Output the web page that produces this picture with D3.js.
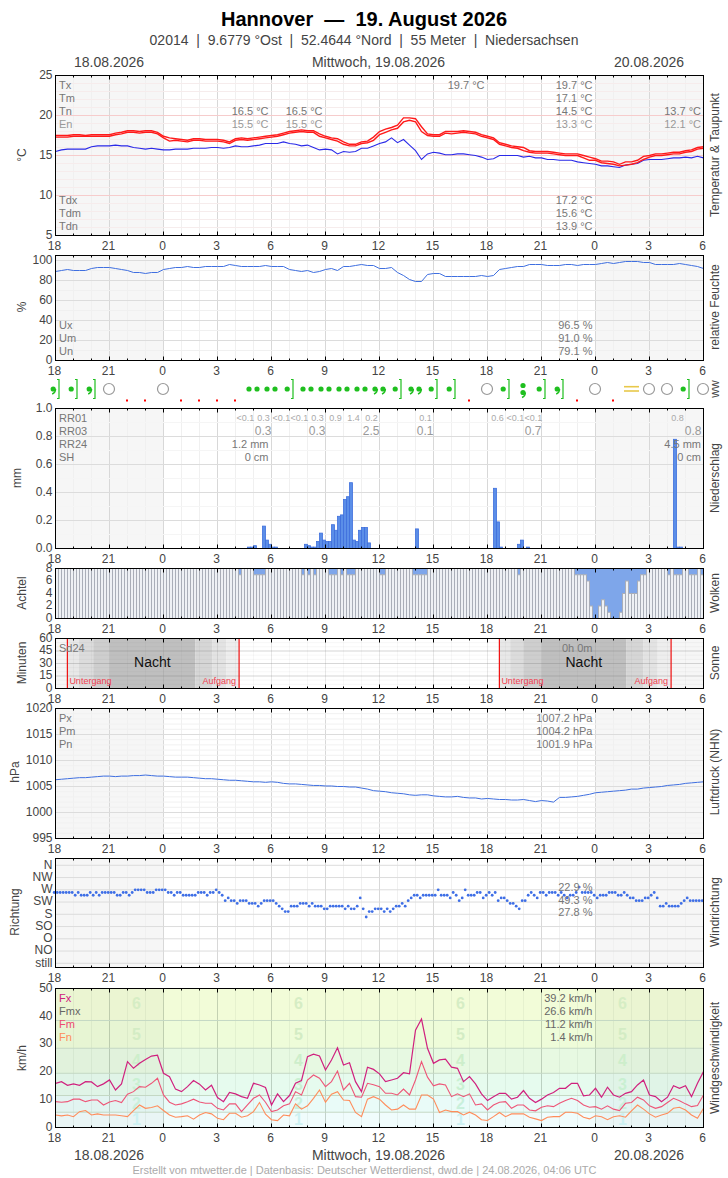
<!DOCTYPE html>
<html>
<head>
<meta charset="utf-8">
<script src="https://cdn.jsdelivr.net/npm/d3@7"></script>
<style>
  body { margin: 0; background: #fff; }
  text { font-family: "Liberation Sans", Arial, sans-serif; }
</style>
</head>
<body>
<div id="app"></div>
<script>
// all line series: one value every 20 minutes, 18:00 to 06:00 next-next day (36 h)
const tempHigh = [17.5,17.5,17.5,17.6,17.6,17.5,17.6,17.6,17.6,17.6,17.8,17.9,18.1,18.1,18.0,18.1,18.1,17.9,17.4,17.2,17.1,17.0,16.9,17.1,17.1,17.0,17.0,17.0,16.9,16.7,17.1,17.2,17.1,17.2,17.3,17.4,17.5,17.6,17.8,18.0,18.1,18.2,18.1,18.1,17.7,17.4,17.2,17.1,16.7,16.4,16.4,16.7,
  16.8,17.3,18.0,18.3,18.5,18.8,19.7,19.7,19.6,18.6,17.7,17.6,17.6,18.0,18.0,18.0,18.1,18.0,17.9,17.6,17.4,17.2,16.6,16.4,16.2,16.1,16.0,15.6,15.5,15.5,15.5,15.4,15.3,15.2,15.2,15.2,15.0,14.8,14.6,14.3,14.3,14.2,13.9,14.2,14.2,14.4,14.9,15.0,15.2,15.2,15.3,15.4,15.4,15.6,15.7,16.0,16.1];
const tempLow = [17.3,17.3,17.3,17.4,17.4,17.4,17.4,17.4,17.4,17.4,17.6,17.7,17.9,17.9,17.8,17.9,17.9,17.7,17.2,16.8,16.9,16.8,16.7,16.9,16.9,16.8,16.8,16.8,16.7,16.5,16.9,17.0,16.9,17.0,17.1,17.2,17.3,17.4,17.6,17.8,17.9,18.0,17.9,17.9,17.4,17.2,17.0,16.8,16.4,16.2,16.2,16.5,
  16.6,16.9,17.6,17.9,18.2,18.4,19.2,19.4,19.2,18.0,17.5,17.4,17.4,17.8,17.7,17.8,17.9,17.8,17.7,17.4,17.2,17.0,16.4,16.2,16.0,15.9,15.6,15.4,15.3,15.3,15.3,15.2,15.1,15.0,15.0,15.0,14.7,14.4,14.4,14.1,14.0,13.9,13.7,13.8,13.9,14.1,14.5,14.8,15.0,15.0,15.1,15.2,15.2,15.4,15.5,15.8,15.9];
const dewPoint = [15.5,15.7,15.8,15.8,15.8,15.8,16.1,16.2,16.2,16.2,16.3,16.2,16.2,16.0,15.9,15.8,15.9,15.8,15.7,15.7,15.8,15.8,15.8,15.9,15.9,15.9,16.0,16.0,15.9,16.0,16.2,16.1,16.1,16.2,16.3,16.5,16.5,16.5,16.7,16.5,16.4,16.2,16.3,16.0,15.7,15.8,15.7,15.2,15.5,15.4,15.5,15.9,
  15.9,16.2,16.5,16.7,17.2,16.6,17.0,16.3,15.6,14.5,15.2,15.4,15.3,15.1,15.1,15.2,15.2,15.1,15.0,14.8,14.5,14.6,15.0,15.0,15.0,15.0,14.8,14.9,14.7,14.7,14.5,14.5,14.4,14.4,14.4,14.2,14.1,14.0,13.9,13.7,13.7,13.6,13.5,13.8,13.9,14.0,14.4,14.5,14.5,14.5,14.6,14.7,14.7,14.8,14.7,14.9,14.7];
const humidity = [89,90,91,90,90,90,92,93,93,93,92,91,90,88,88,87,88,88,91,92,93,93,94,93,93,94,94,94,94,96,95,94,94,94,94,95,94,94,94,91,90,89,90,88,89,91,92,90,94,94,95,96,
  95,95,92,92,93,88,85,81,79,79,86,87,87,84,84,84,84,84,84,85,84,85,91,92,93,94,94,96,96,96,95,95,95,96,96,95,96,96,96,97,98,97,98,99,99,99,98,98,96,96,96,96,97,96,95,94,92];
const pressure = [1006.3,1006.4,1006.5,1006.6,1006.7,1006.7,1006.8,1006.9,1007.0,1007.0,1006.9,1007.0,1007.0,1007.1,1007.1,1007.2,1007.1,1007.0,
  1007.0,1006.9,1006.8,1006.8,1006.8,1006.7,1006.6,1006.5,1006.5,1006.4,1006.3,1006.2,1006.2,1006.1,1006.0,1005.9,1005.9,1005.8,
  1005.9,1005.8,1005.6,1005.5,1005.5,1005.4,1005.3,1005.2,1005.2,1005.1,1005.1,1005.0,1005.0,1004.9,1004.9,1004.7,1004.5,1004.2,
  1004.1,1004.0,1003.8,1003.7,1003.6,1003.4,1003.3,1003.4,1003.4,1003.2,1003.1,1003.0,1003.0,1003.1,1002.9,1002.8,1002.8,1002.6,
  1002.7,1002.6,1002.5,1002.5,1002.4,1002.4,1002.5,1002.3,1002.1,1002.3,1002.2,1002.0,1002.9,1002.9,1003.0,1003.1,1003.3,1003.5,
  1003.8,1003.9,1004.0,1004.1,1004.2,1004.3,1004.5,1004.5,1004.7,1004.8,1004.9,1005.0,1005.2,1005.3,1005.4,1005.6,1005.7,1005.8,1005.9];
const windMax = [15.9,16.5,15.2,15.7,15.2,16.5,16.4,14.7,15.7,17.1,13.5,15.7,23.7,21.3,23.1,24.5,25.7,26.0,19.5,18.3,13.8,12.9,14.7,16.9,15.6,13.5,15.2,10.8,9.3,12.6,12.1,11.1,10.5,15.9,15.3,14.4,8.1,12.1,9.3,11.5,15.9,16.9,25.5,26.4,25.7,20.7,24.3,28.7,22.5,23.3,16.5,12.9,
  21.7,20.9,19.3,16.5,17.1,17.7,19.7,19.3,35.0,39.0,28.5,23.1,24.3,24.6,21.7,21.3,16.5,18.3,15.7,12.1,9.7,11.1,12.3,12.3,10.2,10.9,13.3,10.5,9.0,10.2,11.7,12.6,14.1,14.1,15.9,15.9,11.4,11.7,14.1,10.9,14.5,11.7,10.9,12.3,12.9,15.3,17.1,11.7,11.1,9.3,10.9,15.0,14.1,15.0,11.1,15.9,20.1];
const windMean = [9.3,9.1,9.3,10.2,10.2,9.3,9.9,9.9,8.1,9.2,9.7,9.0,12.0,12.9,14.7,14.5,15.9,17.7,11.7,9.1,8.1,8.5,9.3,10.2,9.2,8.7,8.7,6.9,6.3,8.5,8.5,5.7,8.1,10.5,11.7,9.1,5.7,6.3,7.8,8.5,12.9,11.7,17.1,18.9,17.7,14.7,16.5,20.3,13.5,15.9,11.1,10.9,
  15.9,15.4,14.7,12.3,12.3,11.7,13.8,11.7,17.1,23.7,18.1,15.0,15.7,15.3,11.1,12.1,11.1,12.1,8.1,8.5,6.3,8.1,9.1,9.3,6.9,8.1,8.1,6.3,6.0,7.3,7.8,7.5,8.7,9.7,10.5,9.7,8.1,7.3,7.5,6.6,7.8,6.6,6.1,8.7,9.0,10.9,9.9,7.8,6.9,7.5,9.0,10.5,9.6,8.5,7.5,7.9,11.7];
const windMin = [4.5,4.2,4.5,3.9,5.7,6.1,4.5,4.9,4.5,4.5,4.5,4.2,3.9,6.1,8.1,6.9,7.2,7.8,6.1,4.5,3.7,3.9,4.2,3.0,4.5,5.4,4.9,3.3,2.8,5.1,5.1,3.7,4.2,5.7,9.0,4.8,2.8,2.5,4.5,4.2,8.5,6.6,7.8,10.5,13.5,9.1,12.0,12.9,9.9,9.7,5.4,3.9,
  10.2,11.1,10.2,8.1,6.3,6.6,8.1,6.6,6.6,11.7,11.7,10.2,5.4,6.3,5.7,5.7,4.5,5.5,4.5,2.8,2.5,3.9,5.4,3.9,4.9,4.9,4.9,3.7,3.1,2.5,3.7,3.9,3.9,5.5,5.5,5.1,3.7,3.1,4.2,3.9,2.8,3.9,4.2,3.7,6.0,8.1,6.6,4.9,3.7,4.5,5.1,6.9,7.3,6.3,4.5,3.3,6.9];

// one value every 10 minutes
const windDir = [260,260,260,260,260,260,260,250,260,250,250,250,260,250,260,250,260,260,260,260,260,250,250,260,260,250,260,270,270,270,270,260,260,260,270,270,270,270,260,260,250,260,260,250,250,250,250,250,260,260,260,250,260,260,270,260,250,230,240,230,230,220,230,230,230,220,220,220,210,220,230,230,230,230,220,210,200,190,190,210,210,210,220,220,220,210,220,210,210,210,200,200,210,210,210,210,210,200,210,200,200,210,240,200,
  170,190,190,200,200,200,190,200,190,200,210,210,220,210,230,240,250,250,240,250,250,250,250,250,270,250,250,250,240,260,250,230,240,270,250,250,250,260,260,240,250,260,250,260,230,240,240,230,220,220,210,200,230,230,250,260,250,240,260,260,250,260,260,260,250,260,250,240,250,250,260,280,260,260,260,260,250,240,250,250,250,260,260,260,250,250,260,250,240,240,230,230,230,240,240,250,260,240,210,210,220,210,210,210,210,220,230,240,230,230,230,230,230];
const cloudOktas = [8,8,8,8,8,8,8,8,8,8,8,8,8,8,8,8,8,8,8,8,8,8,8,8,8,8,8,8,8,8,8,8,8,8,8,8,
  8,8,8,8,8,8,8,8,8,8,8,8,8,8,8,8,8,8,8,8,8,8,8,8,8,7,8,8,8,8,7,7,7,7,8,8,
  8,8,8,8,8,8,8,8,8,8,7,8,7,8,7,8,8,8,8,7,7,7,8,7,8,7,7,7,8,8,8,8,8,8,8,8,
  7,7,8,8,8,8,8,8,8,8,8,7,7,7,7,7,8,8,8,8,8,8,8,8,8,8,8,8,8,8,8,8,8,8,8,8,
  8,8,8,8,8,8,8,8,8,8,7,8,8,8,8,8,8,8,8,8,8,8,8,8,8,8,8,8,8,7,7,7,7,6,2,0,
  0,2,3,2,1,0,0,0,1,4,6,4,4,4,6,7,7,8,8,8,8,8,8,8,7,8,7,7,7,8,8,7,7,7,8,7];

const rainSlots = [64,65,66,69,70,71,72,73,83,84,85,86,87,88,89,90,91,92,93,94,95,96,97,98,99,100,101,102,103,104,120,146,147,148,154,155,157,206,207,208];
const rainValues = [0.01,0.01,0.02,0.16,0.06,0.03,0.01,0.01,0.03,0.02,0.01,0.01,0.05,0.11,0.06,0.05,0.05,0.17,0.13,0.23,0.24,0.35,0.37,0.47,0.06,0.05,0.13,0.15,0.15,0.04,0.14,0.43,0.19,0.01,0.03,0.06,0.01,0.78,0.01,0.01];

// hourly rain labels: hour offset since 18:00
const rr01Hours = [10,11,12,13,14,15,16,17,20,24,25,26,34];
const rr01Labels = ['<0.1','0.3','<0.1','<0.1','0.3','0.9','1.4','0.2','0.1','0.6','<0.1','<0.1','0.8'];
const rr03Hours = [12,15,18,21,27,36];
const rr03Labels = ['0.3','0.3','2.5','0.1','0.7','0.8'];

// present weather, one symbol per hour offset
const wwCodes = ['commaB','dotB','commaB','clear','red','red','clear','red','red','red','red','dot2','dot2','dotB','dot2','dot2','dot2','dot2','comma2','dotB','comma2','dotB','dotB','red','clear','dotB','dotComma','dotB','commaB','red','clear','red','fog','clear','clear','dotB','clear'];

// twilight bands in hour offsets
const nightEdges = [[0.66,1.3,2.1,3,7.76,8.7,9.5,10.2],[24.66,25.26,26,27,31.7,32.65,33.45,34.2]];
const nightShades = ['#e8e8e8','#dcdcdc','#cecece','#bfbfbf','#d6d6d6','#e3e3e3','#eeeeee'];

const windBands = [0,5.5,11.5,19.5,28.5,38.5,50];
const windColors = ['#f0fcfc','#e9fbf8','#e6fbee','#e7f9e2','#eefcd9','#f2fcd8'];
const beaufortLabels = ['1','2','3','4','5','6'];
const beaufortColors = ['#cdf1f2','#c9f0dc','#c9f0d2','#cdeecb','#d3ecc4','#d6edc4'];
const beaufortSpots = [4.5,13.5,22.5,31.5];

const dirNames = ['still','NO','O','SO','S','SW','W','NW','N'];
const hourTicks = d3.range(0, 37);

const svg = d3.select('#app').append('svg')
  .attr('width', 728)
  .attr('height', 1178)
  .style('display', 'block');

const x = d3.scaleLinear().domain([0, 36]).range([55.5, 703.5]);
const step20 = (d, i) => x(i / 3);

function label(parent, str, px, py, anchor, color, size, weight) {
  return parent.append('text').text(str)
    .attr('x', px).attr('y', py).attr('dy', '.35em')
    .attr('text-anchor', anchor || 'start')
    .attr('fill', color || '#777')
    .attr('font-size', size || 11)
    .attr('font-weight', weight || 'normal');
}

function sideLabel(str, px, py) {
  svg.append('text').text(str)
    .attr('transform', `translate(${px},${py}) rotate(-90)`)
    .attr('dy', '.35em')
    .attr('text-anchor', 'middle')
    .attr('fill', '#444')
    .attr('font-size', 12);
}

// one framed panel: shade, grid, marks, frame and axes stacked in that order
function panel(top, bottom, y, opts) {
  const g = svg.append('g');
  const back = g.append('g');
  const grid = g.append('g');
  const marks = g.append('g');
  const front = g.append('g');

  if (opts.shade !== false) {
    [[0, 6], [30, 36]].forEach(r => back.append('rect')
      .attr('x', x(r[0])).attr('width', x(r[1]) - x(r[0]))
      .attr('y', top).attr('height', bottom - top)
      .attr('fill', '#f6f6f6'));
  }

  const vMinor = opts.vMinor || '#f0f0f0';
  const vMajor = opts.vMajor || '#d8d8d8';
  grid.selectAll('.v').data(hourTicks).join('line')
    .attr('x1', d => x(d)).attr('x2', d => x(d))
    .attr('y1', top).attr('y2', bottom)
    .attr('stroke', d => d % 3 === 0 ? vMajor : vMinor);
  (opts.minor || []).forEach(v => grid.append('line')
    .attr('x1', x(0)).attr('x2', x(36)).attr('y1', y(v)).attr('y2', y(v))
    .attr('stroke', opts.minorColor || '#f0f0f0'));
  (opts.major || []).forEach(v => grid.append('line')
    .attr('x1', x(0)).attr('x2', x(36)).attr('y1', y(v)).attr('y2', y(v))
    .attr('stroke', opts.majorColor || '#dcdcdc'));

  front.append('rect')
    .attr('x', x(0)).attr('y', top)
    .attr('width', x(36) - x(0)).attr('height', bottom - top)
    .attr('fill', 'none').attr('stroke', '#000');

  // small ticks point inwards on both edges
  [[top, 1], [bottom, -1]].forEach(e => {
    front.selectAll(null).data(hourTicks).join('line')
      .attr('x1', d => x(d)).attr('x2', d => x(d))
      .attr('y1', e[0]).attr('y2', d => e[0] + e[1] * (d % 3 === 0 ? 4 : 2))
      .attr('stroke', '#000');
  });

  const axisX = d3.axisBottom(x)
    .tickValues(d3.range(0, 37, 3))
    .tickFormat(d => (18 + d) % 24)
    .tickSize(0).tickPadding(4).offset(-1);
  const ax = front.append('g').attr('transform', `translate(0,${bottom})`).call(axisX);
  ax.select('.domain').remove();
  ax.selectAll('.tick text').attr('dy', '.85em');

  const axisY = d3.axisLeft(y)
    .tickValues(opts.ticks)
    .tickFormat(opts.format || (d => d))
    .tickSize(0).tickPadding(3).offset(-0.5);
  const ay = front.append('g').attr('transform', `translate(${x(0)},0)`).call(axisY);
  ay.select('.domain').remove();

  front.selectAll('.tick text').attr('font-size', 12).attr('fill', '#444');
  front.selectAll('g').attr('font-family', null);
  return { marks, front, back, grid };
}

function drawLine(parent, y, values, color, width) {
  const line = d3.line().x(step20).y(d => y(d));
  parent.append('path').datum(values).attr('d', line)
    .attr('fill', 'none').attr('stroke', color).attr('stroke-width', width || 1);
}

// ---- heading
label(svg, 'Hannover\u00a0\u00a0—\u00a0\u00a019. August 2026', 364, 18.5, 'middle', '#000', 20, 'bold');
label(svg, '02014\u00a0\u00a0|\u00a0\u00a09.6779 °Ost\u00a0\u00a0|\u00a0\u00a052.4644 °Nord\u00a0\u00a0|\u00a0\u00a055 Meter\u00a0\u00a0|\u00a0\u00a0Niedersachsen', 364, 40, 'middle', '#444', 14);
[['18.08.2026', 109], ['Mittwoch, 19.08.2026', 378.5], ['20.08.2026', 649]].forEach(d => {
  label(svg, d[0], d[1], 62, 'middle', '#444', 14);
  label(svg, d[0], d[1], 1155, 'middle', '#444', 14);
});
label(svg, 'Erstellt von mtwetter.de | Datenbasis: Deutscher Wetterdienst, dwd.de | 24.08.2026, 04:06 UTC', 364.5, 1170.5, 'middle', '#aaa', 11);

// ---- temperature
const yTemp = d3.scaleLinear().domain([5, 25]).range([235.5, 75.5]);
const pTemp = panel(75.5, 235.5, yTemp, {
  ticks: [5, 10, 15, 20, 25], major: [10, 15, 20], majorColor: '#f6cccc',
  minor: d3.range(5, 25), minorColor: '#f6ecec'
});
drawLine(pTemp.marks, yTemp, dewPoint, '#2a2ae8', 1.1);
drawLine(pTemp.marks, yTemp, tempLow, '#ff1a1a', 1.4);
drawLine(pTemp.marks, yTemp, tempHigh, '#ff1a1a', 1.4);
['Tx', 'Tm', 'Tn', 'En'].forEach((s, i) => label(pTemp.front, s, 59, 85 + 13 * i, 'start', i === 3 ? '#999' : '#777'));
['19.7 °C', '17.1 °C', '14.5 °C', '13.3 °C'].forEach((s, i) => label(pTemp.front, s, 592.5, 85 + 13 * i, 'end', i === 3 ? '#999' : '#777'));
['Tdx', 'Tdm', 'Tdn'].forEach((s, i) => label(pTemp.front, s, 59, 200 + 13 * i));
['17.2 °C', '15.6 °C', '13.9 °C'].forEach((s, i) => label(pTemp.front, s, 592.5, 200 + 13 * i, 'end'));
label(pTemp.front, '19.7 °C', 484.5, 85, 'end');
[[268.5, '16.5 °C', '15.5 °C'], [322.5, '16.5 °C', '15.5 °C'], [701, '13.7 °C', '12.1 °C']].forEach(d => {
  label(pTemp.front, d[1], d[0], 111, 'end');
  label(pTemp.front, d[2], d[0], 124, 'end', '#999');
});
sideLabel('°C', 22, 155);
sideLabel('Temperatur & Taupunkt', 715, 155);

// ---- humidity
const yHum = d3.scaleLinear().domain([0, 105]).range([360.5, 255.5]);
const pHum = panel(255.5, 360.5, yHum, {
  ticks: [0, 20, 40, 60, 80, 100], major: [20, 40, 60, 80, 100], minor: d3.range(10, 101, 10)
});
drawLine(pHum.marks, yHum, humidity, '#3f6fe0', 1);
['Ux', 'Um', 'Un'].forEach((s, i) => label(pHum.front, s, 59, 325 + 13 * i));
['96.5 %', '91.0 %', '79.1 %'].forEach((s, i) => label(pHum.front, s, 592.5, 325 + 13 * i, 'end'));
sideLabel('%', 22, 307);
sideLabel('relative Feuchte', 715, 307);

// ---- present weather row
const wwGreen = '#1fbf1f';
const wwRow = svg.append('g');
function wwDot(g, px, py) {
  g.append('circle').attr('cx', px).attr('cy', py).attr('r', 2.6).attr('fill', wwGreen);
}
function wwComma(g, px, py) {
  wwDot(g, px, py);
  g.append('path').attr('d', `M${px + 2.4},${py} Q${px + 2.4},${py + 3.5} ${px - 1},${py + 5}`)
    .attr('fill', 'none').attr('stroke', wwGreen).attr('stroke-width', 1.4);
}
function wwBracket(g, px) {
  g.append('path').attr('d', `M${px - 2},379.5 H${px} V398.5 H${px - 2}`)
    .attr('fill', 'none').attr('stroke', wwGreen).attr('stroke-width', 1.2);
}
wwCodes.forEach((code, i) => {
  const px = x(i);
  if (code === 'clear') {
    wwRow.append('circle').attr('cx', px - 0.5).attr('cy', 389).attr('r', 5.5)
      .attr('fill', '#fff').attr('stroke', '#999').attr('stroke-width', 1.2);
  } else if (code === 'red') {
    wwRow.append('rect').attr('x', px - 1.5).attr('y', 399.5).attr('width', 2).attr('height', 2).attr('fill', '#f00');
  } else if (code === 'dotB') {
    wwDot(wwRow, px - 2.3, 389);
    wwBracket(wwRow, px + 3.5);
  } else if (code === 'commaB') {
    wwComma(wwRow, px - 2.3, 389);
    wwBracket(wwRow, px + 3.5);
  } else if (code === 'dot2') {
    wwDot(wwRow, px - 4.5, 389);
    wwDot(wwRow, px + 3.5, 389);
  } else if (code === 'comma2') {
    wwComma(wwRow, px - 4.5, 389);
    wwComma(wwRow, px + 3.5, 389);
  } else if (code === 'dotComma') {
    wwDot(wwRow, px - 0.5, 385.5);
    wwComma(wwRow, px - 0.5, 392.5);
  } else if (code === 'fog') {
    [386.7, 391].forEach(py => wwRow.append('line')
      .attr('x1', px - 7.5).attr('x2', px + 7.5).attr('y1', py).attr('y2', py)
      .attr('stroke', '#e8c84a').attr('stroke-width', 1.6));
  }
});
sideLabel('ww', 715, 389);

// ---- precipitation
const yRain = d3.scaleLinear().domain([0, 1]).range([548.5, 408.5]);
const pRain = panel(408.5, 548.5, yRain, {
  ticks: [0, 0.2, 0.4, 0.6, 0.8, 1], format: d3.format('.1f'),
  major: [0.2, 0.4, 0.6, 0.8], minor: [0.1, 0.3, 0.5, 0.7, 0.9], minorColor: '#f5f5f5'
});
pRain.marks.selectAll('rect').data(rainSlots).join('rect')
  .attr('x', d => x(d / 6))
  .attr('width', d => x((d + 1) / 6) - x(d / 6))
  .attr('y', (d, i) => yRain(rainValues[i]))
  .attr('height', (d, i) => yRain(0) - yRain(rainValues[i]))
  .attr('fill', '#5b8ee8').attr('stroke', '#3f6fdc').attr('stroke-width', 0.8);
['RR01', 'RR03', 'RR24', 'SH'].forEach((s, i) => label(pRain.front, s, 59, 418 + 13 * i));
rr01Hours.forEach((h, i) => label(pRain.front, rr01Labels[i], x(h + 0.5) + 1, 418, 'middle', '#aaa', 9));
rr03Hours.forEach((h, i) => label(pRain.front, rr03Labels[i], x(h) - (h === 36 ? 2 : 0), 431, 'end', '#999', 12));
[[268.5, '1.2 mm'], [701, '4.5 mm']].forEach(d => label(pRain.front, d[1], d[0], 444, 'end'));
[268.5, 701].forEach(px => label(pRain.front, '0 cm', px, 457, 'end'));
sideLabel('mm', 17, 478);
sideLabel('Niederschlag', 715, 478);

// ---- clouds
const yCloud = d3.scaleLinear().domain([0, 8]).range([618.5, 568.5]);
const pCloud = panel(568.5, 618.5, yCloud, { ticks: [0, 2, 4, 6, 8], shade: false });
pCloud.back.append('rect')
  .attr('x', x(0)).attr('width', x(36) - x(0)).attr('y', 568.5).attr('height', 50).attr('fill', '#7ea6ea');
pCloud.grid.attr('opacity', 0);
pCloud.marks.selectAll('rect').data(cloudOktas).join('rect')
  .attr('x', (d, i) => x(i / 6))
  .attr('width', 3)
  .attr('y', d => yCloud(d))
  .attr('height', d => yCloud(0) - yCloud(d))
  .attr('fill', '#eef1f5').attr('stroke', '#a9aeb8').attr('stroke-width', 1);
sideLabel('Achtel', 22, 593);
sideLabel('Wolken', 715, 593);

// ---- sunshine
const ySun = d3.scaleLinear().domain([0, 60]).range([688.5, 638.5]);
const pSun = panel(638.5, 688.5, ySun, {
  ticks: [0, 15, 30, 45, 60], major: [15, 30, 45], majorColor: 'rgba(120,120,120,.25)',
  minor: d3.range(5, 60, 5), minorColor: 'rgba(120,120,120,.06)',
  vMajor: 'rgba(120,120,120,.18)', vMinor: 'rgba(120,120,120,.06)'
});
nightEdges.forEach(edges => {
  nightShades.forEach((c, i) => pSun.back.append('rect')
    .attr('x', x(edges[i])).attr('width', x(edges[i + 1]) - x(edges[i]))
    .attr('y', 638.5).attr('height', 50).attr('fill', c));
  [edges[0], edges[7]].forEach(h => pSun.marks.append('line')
    .attr('x1', x(h)).attr('x2', x(h)).attr('y1', 638.5).attr('y2', 688.5)
    .attr('stroke', '#f01010').attr('stroke-width', 1.2));
  label(pSun.front, 'Nacht', x((edges[3] + edges[4]) / 2), 662.5, 'middle', '#111', 14);
  label(pSun.front, 'Untergang', x(edges[0]) + 2, 681, 'start', '#f04050', 9);
  label(pSun.front, 'Aufgang', x(edges[7]) - 3, 681, 'end', '#f04050', 9);
});
label(pSun.front, 'Sd24', 59, 648, 'start', '#777', 11);
label(pSun.front, '0h 0m', 592.5, 648, 'end', '#777', 11);
sideLabel('Minuten', 22, 663);
sideLabel('Sonne', 715, 663);

// ---- pressure
const yPress = d3.scaleLinear().domain([995, 1020]).range([838.5, 708.5]);
const pPress = panel(708.5, 838.5, yPress, {
  ticks: d3.range(995, 1021, 5), major: d3.range(1000, 1020, 5), minor: d3.range(995, 1020), minorColor: '#f1f1f1'
});
drawLine(pPress.marks, yPress, pressure, '#3f6fe0', 1);
['Px', 'Pm', 'Pn'].forEach((s, i) => label(pPress.front, s, 59, 718 + 13 * i));
['1007.2 hPa', '1004.2 hPa', '1001.9 hPa'].forEach((s, i) => label(pPress.front, s, 592.5, 718 + 13 * i, 'end'));
sideLabel('hPa', 15, 772);
sideLabel('Luftdruck (NHN)', 715, 772);

// ---- wind direction
const yDir = d3.scaleLinear().domain([0, 360]).range([963.3, 865.3]);
const pDir = panel(858.5, 967.5, yDir, {
  ticks: d3.range(0, 361, 45), format: d => dirNames[d / 45], major: d3.range(0, 361, 45)
});
pDir.marks.selectAll('circle').data(windDir).join('circle')
  .attr('cx', (d, i) => x(i / 6) - 1.3)
  .attr('cy', d => yDir(d))
  .attr('r', 1.4)
  .attr('fill', '#3f6fe6');
['22.9 %', '49.3 %', '27.8 %'].forEach((s, i) => label(pDir.front, s, 592.5, 887.5 + 12.5 * i, 'end', '#777', 11));
sideLabel('Richtung', 15, 912);
sideLabel('Windrichtung', 715, 912);

// ---- wind speed
const yWind = d3.scaleLinear().domain([0, 50]).range([1127.5, 988.5]);
const pWind = panel(988.5, 1127.5, yWind, {
  ticks: d3.range(0, 51, 10), shade: false, major: windBands.slice(1, -1), majorColor: '#c4d8c4',
  vMinor: 'rgba(90,110,90,.08)', vMajor: 'rgba(90,110,90,.3)'
});
windColors.forEach((c, i) => pWind.back.append('rect')
  .attr('x', x(0)).attr('width', x(36) - x(0))
  .attr('y', yWind(windBands[i + 1])).attr('height', yWind(windBands[i]) - yWind(windBands[i + 1]))
  .attr('fill', c));
[[0, 6], [30, 36]].forEach(r => pWind.back.append('rect')
  .attr('x', x(r[0])).attr('width', x(r[1]) - x(r[0]))
  .attr('y', 988.5).attr('height', 139)
  .attr('fill', 'rgba(90,90,90,.045)'));
beaufortSpots.forEach(h => beaufortLabels.forEach((s, i) => {
  const mid = (windBands[i] + windBands[i + 1]) / 2;
  label(pWind.back, s, x(h), yWind(i === 5 ? 44.6 : mid), 'middle', beaufortColors[i], 16, 'bold');
}));
drawLine(pWind.marks, yWind, windMin, '#ff8c5a', 1.1);
drawLine(pWind.marks, yWind, windMean, '#ee5577', 1.1);
drawLine(pWind.marks, yWind, windMax, '#d0207e', 1.2);
[['Fx', '#d0207e'], ['Fmx', '#666'], ['Fm', '#ee4a70'], ['Fn', '#ff8c5a']].forEach((d, i) => label(pWind.front, d[0], 59, 998 + 13 * i, 'start', d[1]));
['39.2 km/h', '26.6 km/h', '11.2 km/h', '1.4 km/h'].forEach((s, i) => label(pWind.front, s, 592.5, 998 + 13 * i, 'end', '#666'));
sideLabel('km/h', 22, 1058);
sideLabel('Windgeschwindigkeit', 715, 1058);
</script>
</body>
</html>
